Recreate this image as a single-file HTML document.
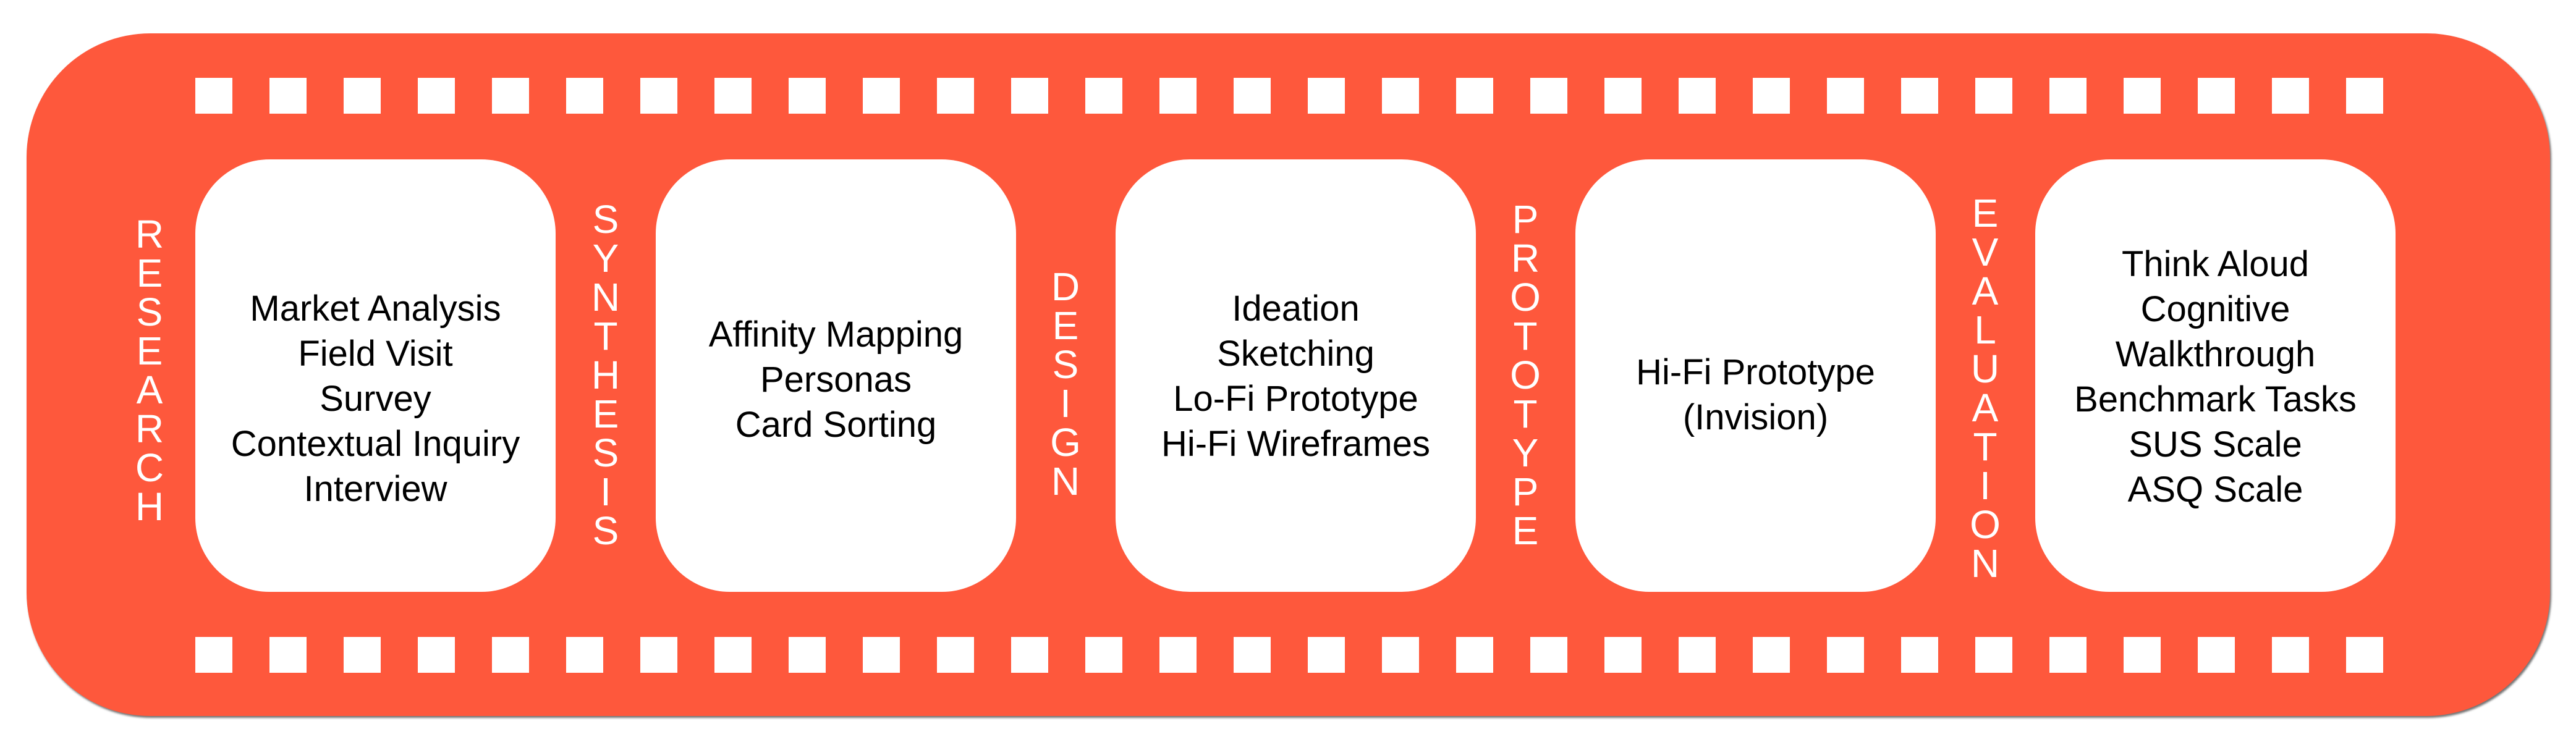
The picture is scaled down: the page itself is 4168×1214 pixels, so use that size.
<!DOCTYPE html>
<html><head><meta charset="utf-8"><style>
html,body{margin:0;padding:0;background:#fff;}
body{width:4168px;height:1214px;position:relative;overflow:hidden;font-family:"Liberation Sans",sans-serif;}
.outer{position:absolute;left:43px;top:54px;width:4083px;height:1105px;background:#FE583C;border-radius:200px;box-shadow:2px 3px 3px rgba(0,0,0,.55);}
.sq{position:absolute;width:60px;height:58px;background:#fff;}
.box{position:absolute;top:258px;width:583px;height:700px;background:#fff;border-radius:120px;}
.txt{position:absolute;width:583px;text-align:center;font-size:58px;line-height:73px;color:#000;}
.lab{position:absolute;width:100px;margin-left:-50px;color:#fff;font-size:64px;line-height:63px;text-align:center;display:flex;flex-direction:column;align-items:center;}
.lab span{display:block;height:63px;}
</style></head><body>
<div class="outer"></div>
<div id="sq"></div>
<div class="box" style="left:316px"></div>
<div class="box" style="left:1061px"></div>
<div class="box" style="left:1805px"></div>
<div class="box" style="left:2549px"></div>
<div class="box" style="left:3293px"></div>

<div class="txt" style="left:316px;top:463px">Market Analysis<br>Field Visit<br>Survey<br>Contextual Inquiry<br>Interview</div>
<div class="txt" style="left:1061px;top:505px">Affinity Mapping<br>Personas<br>Card Sorting</div>
<div class="txt" style="left:1805px;top:463px">Ideation<br>Sketching<br>Lo-Fi Prototype<br>Hi-Fi Wireframes</div>
<div class="txt" style="left:2549px;top:566px">Hi-Fi Prototype<br>(Invision)</div>
<div class="txt" style="left:3293px;top:391px">Think Aloud<br>Cognitive<br>Walkthrough<br>Benchmark Tasks<br>SUS Scale<br>ASQ Scale</div>

<div class="lab" style="left:242px;top:348px"><span>R</span><span>E</span><span>S</span><span>E</span><span>A</span><span>R</span><span>C</span><span>H</span></div>
<div class="lab" style="left:980px;top:324px"><span>S</span><span>Y</span><span>N</span><span>T</span><span>H</span><span>E</span><span>S</span><span>I</span><span>S</span></div>
<div class="lab" style="left:1724px;top:433px"><span>D</span><span>E</span><span>S</span><span>I</span><span>G</span><span>N</span></div>
<div class="lab" style="left:2468px;top:324px"><span>P</span><span>R</span><span>O</span><span>T</span><span>O</span><span>T</span><span>Y</span><span>P</span><span>E</span></div>
<div class="lab" style="left:3212px;top:314px"><span>E</span><span>V</span><span>A</span><span>L</span><span>U</span><span>A</span><span>T</span><span>I</span><span>O</span><span>N</span></div>

<div class="sq" style="left:316px;top:126px"></div><div class="sq" style="left:436px;top:126px"></div><div class="sq" style="left:556px;top:126px"></div><div class="sq" style="left:676px;top:126px"></div><div class="sq" style="left:796px;top:126px"></div><div class="sq" style="left:916px;top:126px"></div><div class="sq" style="left:1036px;top:126px"></div><div class="sq" style="left:1156px;top:126px"></div><div class="sq" style="left:1276px;top:126px"></div><div class="sq" style="left:1396px;top:126px"></div><div class="sq" style="left:1516px;top:126px"></div><div class="sq" style="left:1636px;top:126px"></div><div class="sq" style="left:1756px;top:126px"></div><div class="sq" style="left:1876px;top:126px"></div><div class="sq" style="left:1996px;top:126px"></div><div class="sq" style="left:2116px;top:126px"></div><div class="sq" style="left:2236px;top:126px"></div><div class="sq" style="left:2356px;top:126px"></div><div class="sq" style="left:2476px;top:126px"></div><div class="sq" style="left:2596px;top:126px"></div><div class="sq" style="left:2716px;top:126px"></div><div class="sq" style="left:2836px;top:126px"></div><div class="sq" style="left:2956px;top:126px"></div><div class="sq" style="left:3076px;top:126px"></div><div class="sq" style="left:3196px;top:126px"></div><div class="sq" style="left:3316px;top:126px"></div><div class="sq" style="left:3436px;top:126px"></div><div class="sq" style="left:3556px;top:126px"></div><div class="sq" style="left:3676px;top:126px"></div><div class="sq" style="left:3796px;top:126px"></div>
<div class="sq" style="left:316px;top:1031px"></div><div class="sq" style="left:436px;top:1031px"></div><div class="sq" style="left:556px;top:1031px"></div><div class="sq" style="left:676px;top:1031px"></div><div class="sq" style="left:796px;top:1031px"></div><div class="sq" style="left:916px;top:1031px"></div><div class="sq" style="left:1036px;top:1031px"></div><div class="sq" style="left:1156px;top:1031px"></div><div class="sq" style="left:1276px;top:1031px"></div><div class="sq" style="left:1396px;top:1031px"></div><div class="sq" style="left:1516px;top:1031px"></div><div class="sq" style="left:1636px;top:1031px"></div><div class="sq" style="left:1756px;top:1031px"></div><div class="sq" style="left:1876px;top:1031px"></div><div class="sq" style="left:1996px;top:1031px"></div><div class="sq" style="left:2116px;top:1031px"></div><div class="sq" style="left:2236px;top:1031px"></div><div class="sq" style="left:2356px;top:1031px"></div><div class="sq" style="left:2476px;top:1031px"></div><div class="sq" style="left:2596px;top:1031px"></div><div class="sq" style="left:2716px;top:1031px"></div><div class="sq" style="left:2836px;top:1031px"></div><div class="sq" style="left:2956px;top:1031px"></div><div class="sq" style="left:3076px;top:1031px"></div><div class="sq" style="left:3196px;top:1031px"></div><div class="sq" style="left:3316px;top:1031px"></div><div class="sq" style="left:3436px;top:1031px"></div><div class="sq" style="left:3556px;top:1031px"></div><div class="sq" style="left:3676px;top:1031px"></div><div class="sq" style="left:3796px;top:1031px"></div>
</body></html>
